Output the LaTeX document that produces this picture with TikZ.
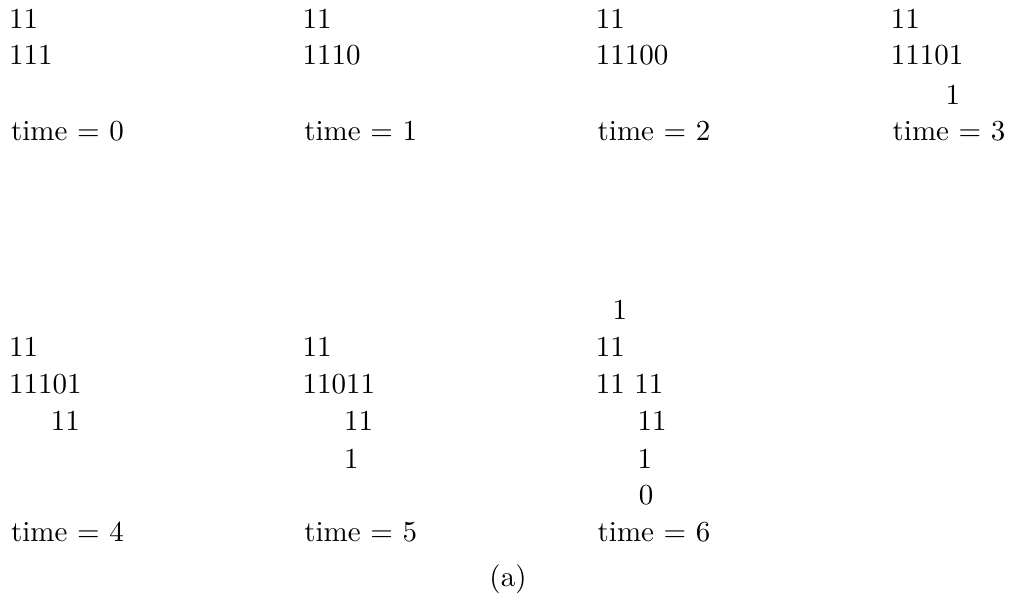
\documentclass[tikz,border=0pt]{standalone}
\begin{document}
\begin{tikzpicture}[x=0.3448pt,y=-0.3448pt,
  txt/.style={anchor=base west,inner sep=0pt,outer sep=0pt,font=\fontsize{10}{12}\selectfont}]
\useasboundingbox (0,0) rectangle (1009,612);
% time = 0
\node[txt] (a1) at (9.2,29) {11};
\node[txt] (a2) at (9.2,65) {111};
\node[txt] (at) at (11.1,140.5) {time = 0};
% time = 1
\node[txt] (b1) at (302.5,29) {11};
\node[txt] (b2) at (302.5,65) {1110};
\node[txt] (bt) at (304.4,140.5) {time = 1};
% time = 2
\node[txt] (c1) at (595.8,29) {11};
\node[txt] (c2) at (595.8,65) {11100};
\node[txt] (ct) at (597.7,140.5) {time = 2};
% time = 3
\node[txt] (d1) at (890.8,29) {11};
\node[txt] (d2) at (890.8,65) {11101};
\node[txt] (d3) at (945.5,104.5) {1};
\node[txt] (dt) at (892.7,140.5) {time = 3};
% time = 4
\node[txt] (e1) at (9.2,356.5) {11};
\node[txt] (e2) at (9.2,394) {11101};
\node[txt] (e3) at (50.8,431) {11};
\node[txt] (et) at (11.1,542) {time = 4};
% time = 5
\node[txt] (f1) at (302.5,356.5) {11};
\node[txt] (f2) at (302.5,394) {11011};
\node[txt] (f3) at (344.2,431) {11};
\node[txt] (f4) at (344.2,468.5) {1};
\node[txt] (ft) at (304.4,542) {time = 5};
% time = 6
\node[txt] (g0) at (612.5,320) {1};
\node[txt] (g1) at (595.8,356.5) {11};
\node[txt] (g2) at (595.8,394) {11 11};
\node[txt] (g3) at (637.5,431) {11};
\node[txt] (g4) at (637.5,468.5) {1};
\node[txt] (g5) at (638.9,505) {0};
\node[txt] (gt) at (597.7,542) {time = 6};
% caption
\node[txt,anchor=base] (cap) at (508,587) {(a)};
\end{tikzpicture}
\end{document}
